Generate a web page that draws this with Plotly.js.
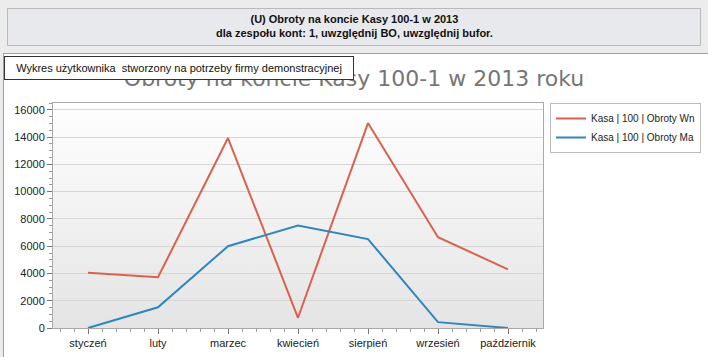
<!DOCTYPE html>
<html>
<head>
<meta charset="utf-8">
<script src="https://cdn.plot.ly/plotly-3.0.1.min.js"></script>
<style>html,body{margin:0;padding:0;background:#fff;}#chart{width:708px;height:357px;}</style>
</head>
<body>
<div id="chart"></div>
<script>
const months = ["styczeń", "luty", "marzec", "kwiecień", "sierpień", "wrzesień", "październik"];
const obrotyWn = [4050, 3720, 13930, 750, 15030, 6660, 4300];
const obrotyMa = [0, 1520, 6000, 7520, 6520, 430, 0];
const seriesNames = ["Kasa | 100 | Obroty Wn", "Kasa | 100 | Obroty Ma"];
const yTicks = [0, 2000, 4000, 6000, 8000, 10000, 12000, 14000, 16000];
const headerText = "(U) Obroty na koncie Kasy 100-1 w 2013<br>dla zespołu kont: 1, uwzględnij BO, uwzględnij bufor.";
const chartTitle = "Obroty na koncie Kasy 100-1 w 2013 roku";
const noteText = "Wykres użytkownika  stworzony na potrzeby firmy demonstracyjnej";

const W = 708, H = 357;
const L = 53, R = 543, T = 103, B = 328;
const xp = px => (px - L) / (R - L);
const yp = py => (B - py) / (B - T);

const idx = months.map((m, i) => i);
const font = "Liberation Sans, Arial, sans-serif";

const traces = [
  {x: idx, y: obrotyWn, name: seriesNames[0], type: "scatter", mode: "lines",
   line: {color: "#d9624d", width: 2}},
  {x: idx, y: obrotyMa, name: seriesNames[1], type: "scatter", mode: "lines",
   line: {color: "#2f86bf", width: 2}}
];

const grad = '<svg xmlns="http://www.w3.org/2000/svg" width="100" height="100" preserveAspectRatio="none"><defs><linearGradient id="g" x1="0" y1="0" x2="0" y2="1"><stop offset="0" stop-color="#ffffff"/><stop offset="1" stop-color="#e4e4e4"/></linearGradient></defs><rect width="100" height="100" fill="url(#g)"/></svg>';

const layout = {
  width: W, height: H,
  margin: {l: L, r: W - R, t: T, b: H - B, pad: 0, autoexpand: false},
  paper_bgcolor: "#ffffff",
  plot_bgcolor: "rgba(0,0,0,0)",
  font: {family: font, size: 11, color: "#222"},
  title: {text: chartTitle, font: {family: "DejaVu Sans, Verdana, sans-serif", size: 22, color: "#767676"},
          x: 0.5, xref: "container", xanchor: "center", y: 1 - 78 / H, yref: "container", yanchor: "middle"},
  xaxis: {
    range: [-0.5, 6.5], tickvals: idx, ticktext: months, showgrid: false, zeroline: false,
    showline: true, mirror: true, linecolor: "#a9a9a9", linewidth: 1,
    ticks: "outside", ticklen: 5, tickcolor: "#777", tickfont: {size: 11, color: "#222"},
    minor: {dtick: 0.2, tick0: 0, ticks: "outside", ticklen: 3, tickcolor: "#999", showgrid: false},
    fixedrange: true
  },
  yaxis: {
    range: [0, 16500], tickvals: yTicks, tickformat: "d", showgrid: true, gridcolor: "#d6d6d6", gridwidth: 1,
    zeroline: false, showline: true, mirror: true, linecolor: "#a9a9a9", linewidth: 1,
    ticks: "outside", ticklen: 5, tickcolor: "#777", tickfont: {size: 11, color: "#222"},
    minor: {dtick: 500, tick0: 0, ticks: "outside", ticklen: 3, tickcolor: "#999", showgrid: false},
    fixedrange: true
  },
  showlegend: true,
  legend: {x: xp(550), y: yp(103), xanchor: "left", yanchor: "top", xref: "paper", yref: "paper",
           bgcolor: "#ffffff", bordercolor: "#bdbdbd", borderwidth: 1,
           font: {family: font, size: 10, color: "#222"}, itemwidth: 30, tracegroupgap: 0},
  images: [{source: "data:image/svg+xml;charset=utf-8," + encodeURIComponent(grad),
            xref: "paper", yref: "paper", x: 0, y: 1, sizex: 1, sizey: 1,
            sizing: "stretch", xanchor: "left", yanchor: "top", layer: "below"}],
  shapes: [
    {type: "rect", xref: "paper", yref: "paper", x0: xp(0), x1: xp(W), y0: yp(0), y1: yp(53),
     fillcolor: "#ececec", line: {width: 0}, layer: "below"},
    {type: "rect", xref: "paper", yref: "paper", x0: xp(0), x1: xp(3), y0: yp(53), y1: yp(H),
     fillcolor: "#ececec", line: {width: 0}, layer: "below"},
    {type: "line", xref: "paper", yref: "paper", x0: xp(3), x1: xp(W), y0: yp(53.5), y1: yp(53.5),
     line: {color: "#a0a0a0", width: 1}, layer: "below"},
    {type: "line", xref: "paper", yref: "paper", x0: xp(3.5), x1: xp(3.5), y0: yp(53), y1: yp(H),
     line: {color: "#a0a0a0", width: 1}, layer: "below"},
    {type: "rect", xref: "paper", yref: "paper", x0: xp(7.5), x1: xp(700.5), y0: yp(8.5), y1: yp(45.5),
     fillcolor: "#e8e9ec", line: {color: "#b9b9b9", width: 1}, layer: "below"}
  ],
  annotations: [
    {text: headerText, xref: "paper", yref: "paper", x: xp(354), y: yp(26), xanchor: "center", yanchor: "middle",
     showarrow: false, align: "center", font: {family: font, size: 11, color: "#111", weight: "bold"}},
    {text: noteText, xref: "paper", yref: "paper", x: xp(4), y: yp(56), xanchor: "left", yanchor: "top",
     showarrow: false, align: "center", width: 346, height: 20, bgcolor: "#ffffff", bordercolor: "#333", borderwidth: 1,
     font: {family: font, size: 11, color: "#111"}}
  ]
};

Plotly.newPlot("chart", traces, layout, {displayModeBar: false, staticPlot: true});
</script>
</body>
</html>
